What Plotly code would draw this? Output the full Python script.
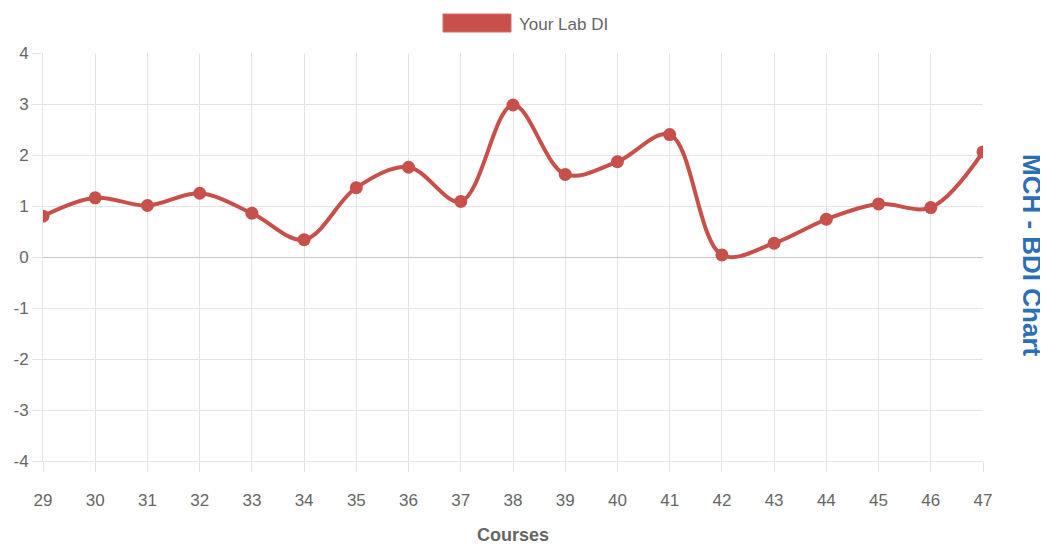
import plotly.graph_objects as go

courses = [29, 30, 31, 32, 33, 34, 35, 36, 37, 38, 39, 40, 41, 42, 43, 44, 45, 46, 47]
lab_di = [0.80, 1.16, 1.01, 1.25, 0.86, 0.34, 1.36, 1.76, 1.09, 2.98, 1.62, 1.87, 2.40,
          0.04, 0.27, 0.74, 1.04, 0.97, 2.06]
y_ticks = [-4, -3, -2, -1, 0, 1, 2, 3, 4]
y_labels = ["-4", "-3", "-2", "-1", "0", "1", "2", "3", "4"]

LINE = "#c8504a"
GRID = "#e4e4e4"
FONT = "Liberation Sans, Arial, sans-serif"
TICKFONT = dict(family=FONT, size=17, color="#666666")

fig = go.Figure()
fig.add_trace(go.Scatter(
    x=courses, y=lab_di, mode="lines+markers", name="Your Lab DI",
    line=dict(color=LINE, width=4, shape="spline", smoothing=1.0),
    marker=dict(color=LINE, size=13),
    showlegend=False,
))

# legend-like box at the top
fig.add_shape(type="rect", xref="paper", yref="paper",
              x0=(443 - 43) / 940, x1=(511 - 43) / 940,
              y0=1 + (53 - 32) / 408, y1=1 + (53 - 14) / 408,
              fillcolor=LINE, line=dict(color="#d96a64", width=1))
fig.add_annotation(text="Your Lab DI", xref="paper", yref="paper",
                   x=(517 - 43) / 940, y=1 + (53 - 24) / 408,
                   xanchor="left", yanchor="middle", showarrow=False,
                   font=dict(family=FONT, size=17, color="#666666"))

# right-side chart title
fig.add_annotation(text="<b>MCH - BDI Chart</b>", xref="paper", yref="paper",
                   x=(1032 - 43) / 940, y=1 - (255 - 53) / 408, xanchor="center", yanchor="middle",
                   textangle=90, showarrow=False,
                   font=dict(family=FONT, size=26, color="#2d6fb4"))

# the page body adds an 8px margin, so the figure is 8px smaller each way
fig.update_layout(
    width=1040, height=537,
    margin=dict(l=35, r=65, t=45, b=84),
    plot_bgcolor="white", paper_bgcolor="white",
    xaxis=dict(
        range=[29, 47], tickvals=courses, ticktext=[str(c) for c in courses],
        showgrid=True, gridcolor=GRID, gridwidth=1, zeroline=False,
        ticks="outside", ticklen=10, tickcolor=GRID, ticklabelstandoff=14,
        showline=True, linecolor=GRID, automargin=False,
        tickfont=TICKFONT,
        title=dict(text="<b>Courses</b>", standoff=20,
                   font=dict(family=FONT, size=18, color="#666666")),
    ),
    yaxis=dict(
        range=[-4, 4], tickvals=y_ticks, ticktext=y_labels,
        showgrid=True, gridcolor=GRID, gridwidth=1,
        zeroline=True, zerolinecolor="#c8c8c8", zerolinewidth=1,
        ticks="outside", ticklen=10, tickcolor=GRID,
        showline=True, linecolor=GRID, automargin=False,
        tickfont=TICKFONT,
    ),
)

fig.write_html("out.html")
